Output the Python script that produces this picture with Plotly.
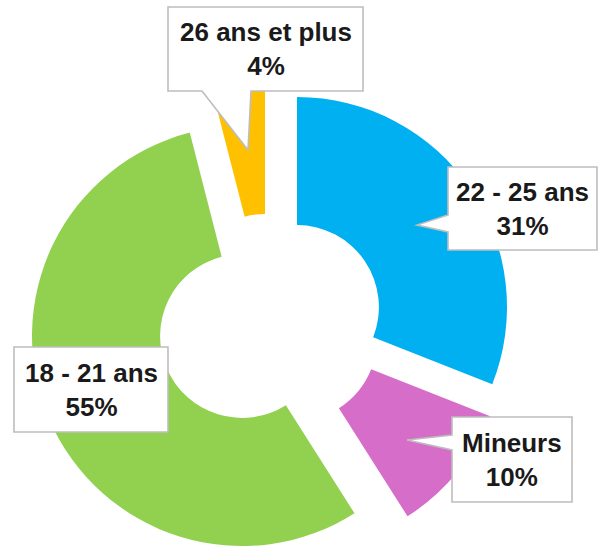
import plotly.graph_objects as go

# ---- data ----
categories = ["22 - 25 ans", "Mineurs", "18 - 21 ans", "26 ans et plus"]
values = [31, 10, 55, 4]
colors = ["#00B0F0", "#D66DC9", "#92D050", "#FFC000"]

W, H = 606, 549
R = 210            # outer radius in px (layout)
HOLE = 0.39
# exploded slice centres (px, layout)
centres = [(297, 307), (295, 339), (242, 336), (265, 296)]

# callout boxes (px): box x0,y0,x1,y1 and optional pointer polygon part
callouts = [
    (0, (448, 167, 597, 250), "left", (232, (417, 225), 215)),
    (1, (452, 417, 572, 502), "left", (450, (407, 440), 435)),
    (2, (14, 347, 168, 432), None, None),
    (3, (168, 7, 363, 91), "bottom", (251, (248, 150), 202)),
]

def px(x):
    return x / W

def py(y):
    return 1 - y / H

fig = go.Figure()
total = sum(values)
cum = 0
for name, v, c, (cx, cy) in zip(categories, values, colors, centres):
    start = cum / total * 360
    cum += v
    fig.add_trace(go.Pie(
        labels=[name, "_rest_" + name],
        values=[v, total - v],
        marker=dict(colors=[c, "rgba(0,0,0,0)"], line=dict(width=0)),
        sort=False,
        direction="clockwise",
        rotation=start,
        hole=HOLE,
        textinfo="none",
        hoverinfo="skip",
        showlegend=False,
        domain=dict(x=[px(cx - R), px(cx + R)], y=[py(cy + R), py(cy - R)]),
    ))

shapes = []
annotations = []
for idx, (x0, y0, x1, y1), side, ptr in callouts:
    if side == "left":
        b1, (tx, ty), b2 = ptr
        pts = [(x0, y0), (x1, y0), (x1, y1), (x0, y1), (x0, b1), (tx, ty), (x0, b2)]
    elif side == "bottom":
        b1, (tx, ty), b2 = ptr
        pts = [(x0, y0), (x1, y0), (x1, y1), (b1, y1), (tx, ty), (b2, y1), (x0, y1)]
    else:
        pts = [(x0, y0), (x1, y0), (x1, y1), (x0, y1)]
    path = "M " + " L ".join(f"{px(a):.5f},{py(b):.5f}" for a, b in pts) + " Z"
    shapes.append(dict(type="path", xref="paper", yref="paper", path=path,
                       fillcolor="white", line=dict(color="#BDBDBD", width=1.6),
                       layer="above"))
    annotations.append(dict(
        x=px((x0 + x1) / 2), y=py((y0 + y1) / 2), xref="paper", yref="paper",
        text=f"{categories[idx]}<br>{values[idx]}%", showarrow=False,
        xanchor="center", yanchor="middle", align="center",
        font=dict(family="Liberation Sans, Arial, sans-serif", size=26,
                  color="#1A1A1A", weight="bold"),
    ))

fig.update_layout(
    width=W, height=H,
    margin=dict(l=0, r=0, t=0, b=0),
    paper_bgcolor="white", plot_bgcolor="white",
    shapes=shapes, annotations=annotations,
    showlegend=False,
)

fig.write_html("out.html",
               config={"displayModeBar": False},
               post_script="document.body.style.margin='0';document.body.style.overflow='hidden';")
